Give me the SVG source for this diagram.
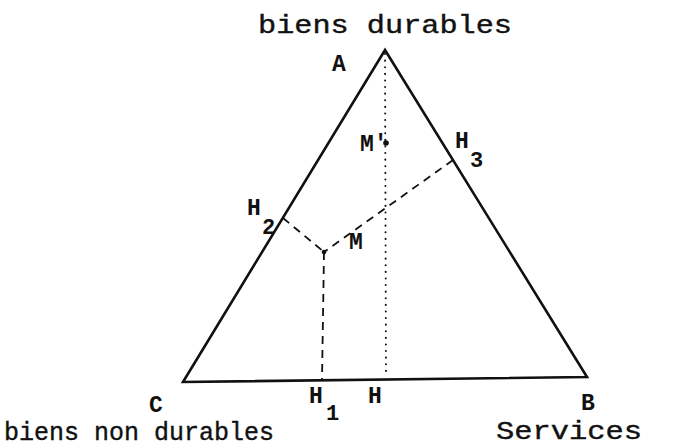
<svg xmlns="http://www.w3.org/2000/svg" width="681" height="447" viewBox="0 0 681 447">
<style>
.t{font-family:"Liberation Mono","Courier New",monospace;fill:#111;}
.big{font-size:26px;stroke:#111;stroke-width:0.4;}
.lab{font-size:23px;font-weight:bold;}
.sub{font-size:22px;font-weight:bold;}
.edge{stroke:#111;stroke-width:2.6;fill:none;stroke-linejoin:miter;}
.dash{stroke:#111;stroke-width:1.8;fill:none;stroke-dasharray:8 6;}
.dot{stroke:#111;stroke-width:2;fill:none;stroke-dasharray:0.1 6.5;stroke-linecap:round;}
</style>
<rect width="681" height="447" fill="#fff"/>
<g id="triangle">
<polygon class="edge" points="385,50 587,377 183,382"/>
</g>
<g id="connectors">
<line class="dot" x1="385" y1="54" x2="386" y2="377"/>
<line class="dash" x1="453" y1="160" x2="324" y2="252"/>
<line class="dash" x1="283" y1="218" x2="324" y2="252"/>
<line class="dash" x1="324" y1="252" x2="322" y2="380"/>
</g>
<g id="point-M"><circle cx="324" cy="252" r="2.3" fill="#111"/><text class="t lab" x="349" y="249">M</text></g>
<g id="point-Mp"><circle cx="386" cy="143" r="2.8" fill="#111"/><text class="t lab" x="360" y="151">M'</text></g>
<g id="vertex-A"><text class="t lab" x="332" y="71">A</text><text class="t big" x="258" y="33" textLength="254" lengthAdjust="spacingAndGlyphs">biens durables</text></g>
<g id="vertex-C"><text class="t lab" x="149" y="412">C</text><text class="t big" x="4" y="440" textLength="270" lengthAdjust="spacingAndGlyphs">biens non durables</text></g>
<g id="vertex-B"><text class="t lab" x="581" y="410">B</text><text class="t big" x="496" y="439" textLength="146" lengthAdjust="spacingAndGlyphs">Services</text></g>
<g id="H1"><text class="t lab" x="309" y="403">H</text><text class="t sub" x="326" y="420">1</text></g>
<g id="H"><text class="t lab" x="368" y="403">H</text></g>
<g id="H2"><text class="t lab" x="247" y="215">H</text><text class="t sub" x="262" y="234">2</text></g>
<g id="H3"><text class="t lab" x="455" y="148">H</text><text class="t sub" x="470" y="167">3</text></g>
</svg>
